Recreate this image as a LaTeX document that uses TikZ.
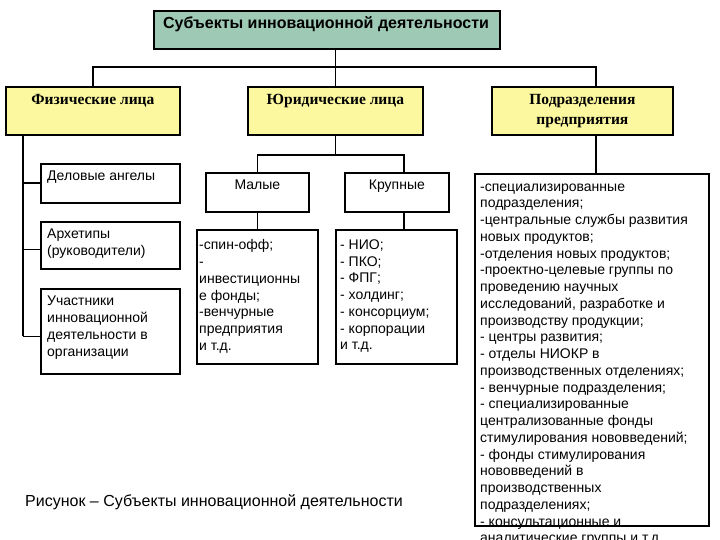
\documentclass[tikz,border=0pt]{standalone}
\usepackage{fontspec}
\setmainfont{Liberation Sans}
\newfontfamily\serifbold{Liberation Serif}
\definecolor{topfill}{HTML}{9DC9B5}
\definecolor{yelfill}{HTML}{FBF8A0}
\begin{document}
\begin{tikzpicture}[x=1pt,y=-1pt,
  box/.style={draw=black,line width=1.8pt,inner sep=0pt,anchor=north west},
  conn/.style={draw=black,line width=1.8pt},
  lbl/.style={inner sep=0pt,align=left,anchor=north west,font=\fontsize{14}{16.75}\selectfont},
  ytxt/.style={inner sep=0pt,align=center,font=\serifbold\bfseries\fontsize{15.5}{20}\selectfont}]
\useasboundingbox (0,0) rectangle (720,540);
\clip (0,0) rectangle (720,540);
\fill[white] (0,0) rectangle (720,540);
% boxes
\node[box,fill=topfill,minimum width=346pt,minimum height=38pt] (top) at (153,10) {};
\node[box,fill=yelfill,minimum width=174pt,minimum height=48pt] (fiz) at (5,86) {};
\node[box,fill=yelfill,minimum width=175pt,minimum height=48pt] (jur) at (247,86) {};
\node[box,fill=yelfill,minimum width=181pt,minimum height=48pt] (podr) at (491,86) {};
\node[box,minimum width=139pt,minimum height=39pt] (a1) at (40,163) {};
\node[box,minimum width=139pt,minimum height=47pt] (a2) at (40,221) {};
\node[box,minimum width=139pt,minimum height=85pt] (a3) at (40,288) {};
\node[box,minimum width=103pt,minimum height=39pt] (malye) at (205,172) {};
\node[box,minimum width=104pt,minimum height=39pt] (krup) at (344,172) {};
\node[box,minimum width=121pt,minimum height=134pt] (mlist) at (196,229) {};
\node[box,minimum width=121pt,minimum height=134pt] (klist) at (335,229) {};
\node[box,minimum width=234pt,minimum height=352pt] (plist) at (474,173) {};
% connector helper coordinates
\coordinate (bus) at ([yshift=19pt]fiz.north);
\coordinate (pr) at ([xshift=13.5pt]podr.north);
\coordinate (trunk) at ([xshift=18pt]fiz.south west);
\coordinate (mb) at ([yshift=-19pt]jur.south);
\coordinate (kr) at ([xshift=7pt]krup.north);
\coordinate (a2w) at ([yshift=-4pt]a2.west);
\coordinate (a3w) at ([yshift=-5pt]a3.west);
% connectors
\draw[conn] (top.south -| jur.north) -- (jur.north);
\draw[conn] (fiz.north) |- (bus -| pr) -- (pr);
\draw[conn] (trunk) -- (trunk |- a3w);
\draw[conn] (trunk |- a1.west) -- (a1.west);
\draw[conn] (trunk |- a2w) -- (a2w);
\draw[conn] (trunk |- a3w) -- (a3w);
\draw[conn] (jur.south) -- (mb);
\draw[conn] (malye.north) |- (kr |- mb) -- (kr);
\draw[conn] (malye.south) -- (mlist.north);
\draw[conn] (kr |- krup.south) -- (kr |- klist.north);
\draw[conn] (pr |- podr.south) -- (pr |- plist.north);
% texts
\node[inner sep=0pt,anchor=base,font=\bfseries\fontsize{16}{18}\selectfont] (toptxt) at (326,29) {Субъекты инновационной деятельности};
\node[ytxt,anchor=base] (fiztxt) at (fiz.center |- 0,105) {Физические лица};
\node[ytxt,anchor=base] (jurtxt) at (jur.center |- 0,105) {Юридические лица};
\node[ytxt,anchor=north] (podrtxt) at (podr.center |- 0,94.5) {Подразделения\\предприятия};
\node[lbl] (a1txt) at ([shift={(7,8)}]a1.north west) {Деловые ангелы};
\node[lbl] (a2txt) at ([shift={(7,8)}]a2.north west) {Архетипы\\(руководители)};
\node[lbl] (a3txt) at ([shift={(7,8)}]a3.north west) {Участники\\инновационной\\деятельности в\\организации};
\node[inner sep=0pt,anchor=base,font=\fontsize{14}{16.7}\selectfont] (malyetxt) at (malye.center |- 0,190) {Малые};
\node[inner sep=0pt,anchor=base,font=\fontsize{14}{16.7}\selectfont] (kruptxt) at (krup.center |- 0,190) {Крупные};
\node[lbl] (mlisttxt) at ([shift={(3,10.5)}]mlist.north west) {-спин-офф;\\-\\инвестиционны\\е фонды;\\-венчурные\\предприятия\\и т.д.};
\node[lbl] (klisttxt) at ([shift={(5,10.5)}]klist.north west) {- НИО;\\- ПКО;\\- ФПГ;\\- холдинг;\\- консорциум;\\- корпорации\\и т.д.};
\node[lbl] (plisttxt) at ([shift={(6,10.5)}]plist.north west) {-специализированные\\подразделения;\\-центральные службы развития\\новых продуктов;\\-отделения новых продуктов;\\-проектно-целевые группы по\\проведению научных\\исследований, разработке и\\производству продукции;\\- центры развития;\\- отделы НИОКР в\\производственных отделениях;\\- венчурные подразделения;\\- специализированные\\централизованные фонды\\стимулирования нововведений;\\- фонды стимулирования\\нововведений в\\производственных\\подразделениях;\\- консультационные и\\аналитические группы и т.д.};
\node[inner sep=0pt,anchor=base west,font=\fontsize{16}{18}\selectfont] (caption) at (25,506) {Рисунок – Субъекты инновационной деятельности};
\end{tikzpicture}
\end{document}
